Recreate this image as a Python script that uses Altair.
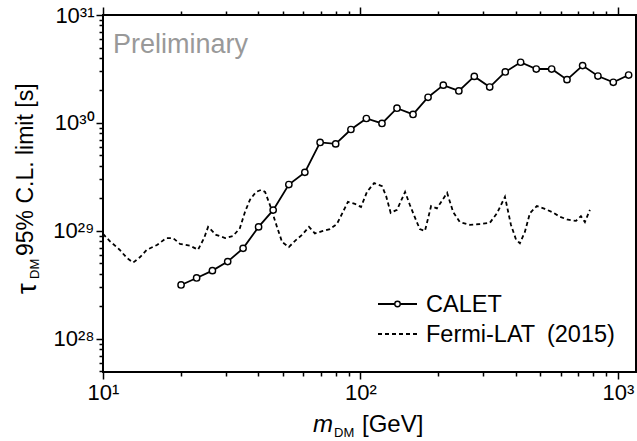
import altair as alt
import pandas as pd

# ---- data ----
calet_m = [20.1, 23.1, 26.6, 30.5, 35.0, 40.2, 45.8, 52.7, 60.8, 69.7, 80.1, 91.8,
           105.4, 121.2, 138.6, 160, 183, 209.7, 241, 276.7, 317.6, 365, 418.8,
           481.6, 552.7, 634, 729, 836, 959, 1100]
calet_tau = [3.16e28, 3.67e28, 4.29e28, 5.2e28, 6.9e28, 1.09e29, 1.56e29, 2.69e29,
             3.49e29, 6.6e29, 6.4e29, 8.7e29, 1.1e30, 9.9e29, 1.37e30, 1.2e30,
             1.73e30, 2.24e30, 1.98e30, 2.7e30, 2.15e30, 2.97e30, 3.65e30, 3.16e30,
             3.16e30, 2.52e30, 3.4e30, 2.72e30, 2.38e30, 2.78e30]

fermi_m = [10.0, 10.6, 11.6, 12.4, 13.1, 13.9, 14.8, 16.2, 17.6, 18.7, 19.9, 21.8,
           23.4, 24.7, 25.6, 27.5, 29.8, 32.0, 34.0, 35.6, 37.2, 39.3, 41.1, 42.6,
           44.5, 47.4, 49.6, 52.7, 55.7, 59.3, 63.1, 66.5, 71.5, 76.1, 81.0, 85.5,
           89.4, 95.2, 100.5, 106, 113, 121.3, 125.8, 131, 138.6, 149, 155.6, 163,
           170, 178, 188, 198, 217, 229, 243, 266, 291, 318, 339, 364, 384, 402,
           416, 435, 455, 484, 520, 554, 596, 640, 687, 718, 744, 778]
fermi_tau = [9.4e28, 8.1e28, 6.7e28, 5.6e28, 5.1e28, 5.7e28, 6.7e28, 7.4e28, 8.6e28,
             8.6e28, 7.6e28, 7.3e28, 6.7e28, 8.6e28, 1.09e29, 9.2e28, 8.6e28, 9.0e28,
             1.06e29, 1.5e29, 1.94e29, 2.3e29, 2.4e29, 2.3e29, 1.74e29, 1.09e29,
             7.9e28, 7.1e28, 8.1e28, 9.2e28, 1.09e29, 9.5e28, 1.0e29, 1.04e29,
             1.16e29, 1.5e29, 1.86e29, 1.78e29, 1.67e29, 2.3e29, 2.78e29, 2.6e29,
             2.1e29, 1.47e29, 1.57e29, 2.3e29, 1.74e29, 1.32e29, 1.04e29, 1.0e29,
             1.7e29, 1.62e29, 2.25e29, 1.5e29, 1.21e29, 1.14e29, 1.16e29, 1.19e29,
             1.46e29, 2.07e29, 1.14e29, 8.3e28, 7.7e28, 9.8e28, 1.46e29, 1.7e29,
             1.6e29, 1.5e29, 1.35e29, 1.27e29, 1.24e29, 1.37e29, 1.21e29, 1.57e29]

series_names = ["CALET", "Fermi-LAT\u2002(2015)"]

x_ticks = [10, 20, 30, 40, 50, 60, 70, 80, 90,
           100, 200, 300, 400, 500, 600, 700, 800, 900, 1000]
x_major_vals = [10, 100, 1000]
x_major_labels = ["10¹", "10²", "10³"]

y_ticks = [5e27, 6e27, 7e27, 8e27, 9e27,
           1e28, 2e28, 3e28, 4e28, 5e28, 6e28, 7e28, 8e28, 9e28,
           1e29, 2e29, 3e29, 4e29, 5e29, 6e29, 7e29, 8e29, 9e29,
           1e30, 2e30, 3e30, 4e30, 5e30, 6e30, 7e30, 8e30, 9e30, 1e31]
y_major_vals = ["1e28", "1e29", "1e30", "1e31"]
y_major_labels = ["10²⁸", "10²⁹", "10³⁰", "10³¹"]

x_domain = [10, 1175]
y_domain = [4.94e27, 1e31]

FONT = "Liberation Sans"

calet_df = pd.DataFrame({"m": calet_m, "tau": calet_tau})
fermi_df = pd.DataFrame({"m": fermi_m, "tau": fermi_tau})
one = pd.DataFrame({"k": [0]})


def label_expr(vals, labels):
    expr = "''"
    for v, l in reversed(list(zip(vals, labels))):
        expr = f"datum.value == {v} ? '{l}' : ({expr})"
    return expr


def major_test(vals):
    return " || ".join(f"datum.value == {v}" for v in vals)


x_scale = alt.Scale(type="log", domain=x_domain, nice=False)
y_scale = alt.Scale(type="log", domain=y_domain, nice=False)

y_axis = alt.Axis(values=y_ticks, labelExpr=label_expr(y_major_vals, y_major_labels),
                  title=None, grid=False, domain=False, labelFontSize=22,
                  labelFont=FONT, labelColor="black", labelPadding=2,
                  tickColor="black", tickWidth=1.5, labelFlush=False,
                  tickSize={"condition": {"test": major_test(y_major_vals), "value": 7}, "value": 4},
                  labelBaseline="middle")
x_axis_bottom = alt.Axis(values=x_ticks, labelExpr=label_expr(x_major_vals, x_major_labels),
                         title=None, grid=False, domain=False, labelFontSize=22,
                         labelFont=FONT, labelColor="black", labelPadding=3,
                         tickColor="black", tickWidth=1.5, labelAngle=0,
                         labelFlush=False, labelOverlap=False,
                         tickSize={"condition": {"test": major_test(x_major_vals), "value": 7}, "value": 4})
x_axis_top = alt.Axis(values=x_ticks, orient="top", labels=False, title=None, grid=False,
                      domain=False, tickColor="black", tickWidth=1.5,
                      tickSize={"condition": {"test": major_test(x_major_vals), "value": 8}, "value": 4})

yenc = alt.Y("tau:Q", scale=y_scale, axis=y_axis)

calet_line = alt.Chart(calet_df).mark_line(color="black", strokeWidth=1.8).encode(
    x=alt.X("m:Q", scale=x_scale, axis=x_axis_bottom), y=yenc)
calet_pts = alt.Chart(calet_df).mark_point(shape="circle", filled=True, fill="white",
                                           stroke="black", strokeWidth=1.4, size=40,
                                           opacity=1).encode(
    x=alt.X("m:Q", scale=x_scale, axis=None), y=yenc)
fermi_line = alt.Chart(fermi_df).mark_line(color="black", strokeWidth=1.8,
                                           strokeDash=[4, 3]).encode(
    x=alt.X("m:Q", scale=x_scale, axis=x_axis_top), y=yenc)

# ---- annotations: legend, titles ----
base = alt.Chart(one)
prelim = base.mark_text(text="Preliminary", font=FONT, fontSize=27, color="#999999",
                        align="left", baseline="alphabetic").encode(
    x=alt.value(10), y=alt.value(38))

leg1_line = base.mark_rule(color="black", strokeWidth=1.8).encode(
    x=alt.value(275), x2=alt.value(314), y=alt.value(289))
leg1_pt = base.mark_point(shape="circle", filled=True, fill="white", stroke="black",
                          strokeWidth=1.4, size=30, opacity=1).encode(
    x=alt.value(294.5), y=alt.value(289))
leg1_txt = base.mark_text(text=series_names[0], font=FONT, fontSize=23.5, align="left",
                          baseline="middle", color="black").encode(
    x=alt.value(323), y=alt.value(290))
leg2_line = base.mark_rule(color="black", strokeWidth=1.8, strokeDash=[4, 3]).encode(
    x=alt.value(275), x2=alt.value(314), y=alt.value(319))
leg2_txt = base.mark_text(text=series_names[1], font=FONT, fontSize=23.5, align="left",
                          baseline="middle", color="black").encode(
    x=alt.value(323), y=alt.value(320))

xt_m = base.mark_text(text="m", font=FONT, fontSize=24, fontStyle="italic", align="left",
                      baseline="alphabetic", color="black").encode(
    x=alt.value(210), y=alt.value(417))
xt_dm = base.mark_text(text="DM", font=FONT, fontSize=13, align="left",
                       baseline="alphabetic", color="black").encode(
    x=alt.value(231), y=alt.value(422))
xt_rest = base.mark_text(text="[GeV]", font=FONT, fontSize=24, align="left",
                         baseline="alphabetic", color="black").encode(
    x=alt.value(259), y=alt.value(417))

yt_tau = base.mark_text(text="τ", font=FONT, fontSize=27, align="left", angle=270,
                        baseline="alphabetic", color="black").encode(
    x=alt.value(-67), y=alt.value(279))
yt_dm = base.mark_text(text="DM", font=FONT, fontSize=13, align="left", angle=270,
                       baseline="alphabetic", color="black").encode(
    x=alt.value(-64), y=alt.value(264))
yt_rest = base.mark_text(text="95% C.L. limit [s]", font=FONT, fontSize=23, align="left",
                         angle=270, baseline="alphabetic", color="black").encode(
    x=alt.value(-70), y=alt.value(241))

chart = alt.layer(
    fermi_line, calet_line, calet_pts,
    prelim, leg1_line, leg1_pt, leg1_txt, leg2_line, leg2_txt,
    xt_m, xt_dm, xt_rest, yt_tau, yt_dm, yt_rest,
).resolve_axis(x="independent").properties(
    width=533, height=357,
    autosize=alt.AutoSizeParams(type="none"),
    padding={"left": 103, "top": 15, "right": 1, "bottom": 69},
    background="white",
).configure_view(stroke="black", strokeWidth=2)

chart.save("out.html", embed_options={"renderer": "svg", "actions": False})
